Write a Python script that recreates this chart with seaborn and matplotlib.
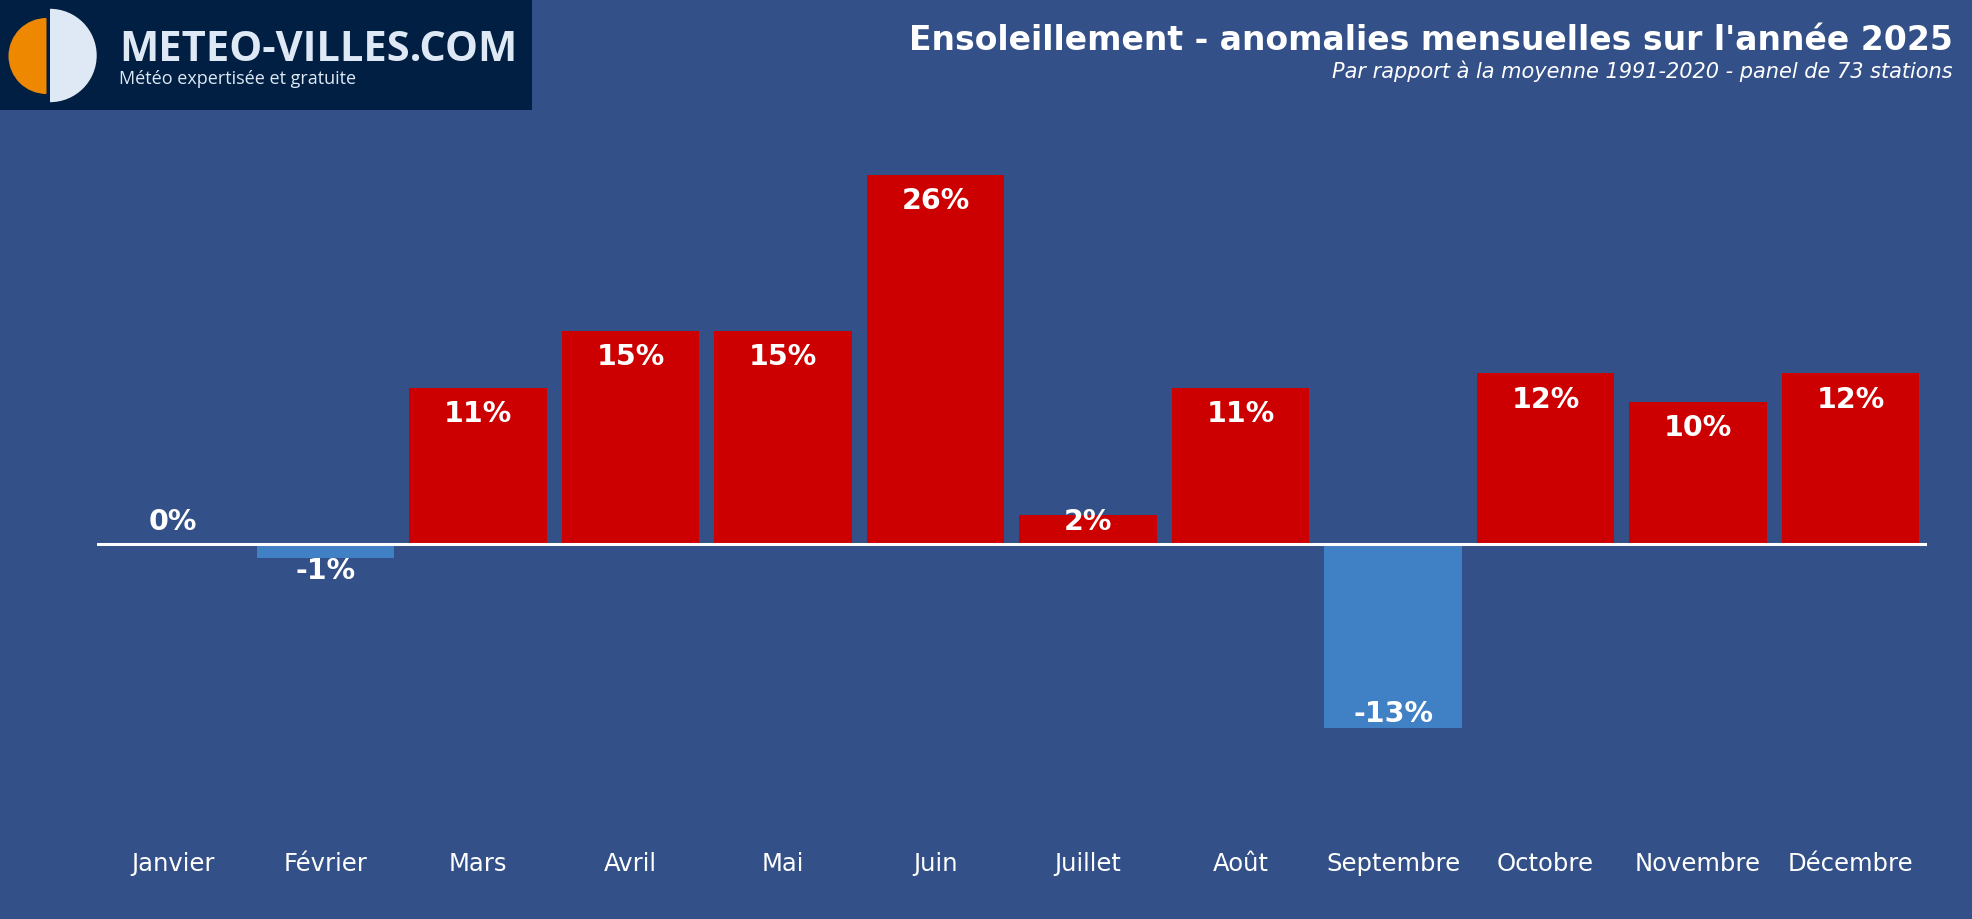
import matplotlib
matplotlib.use("Agg")
import matplotlib.pyplot as plt
import seaborn as sns
from matplotlib.patches import Wedge

months = ['Janvier', 'Février', 'Mars', 'Avril', 'Mai', 'Juin', 'Juillet',
          'Août', 'Septembre', 'Octobre', 'Novembre', 'Décembre']
anomalies = [0, -1, 11, 15, 15, 26, 2, 11, -13, 12, 10, 12]

bg = '#345088'
red = '#cc0000'
blue = '#4080c4'
W, H = 1972, 920

sns.set_theme(style='white')
plt.rcParams['font.family'] = ['DejaVu Sans']

fig = plt.figure(figsize=(W / 100, H / 100), dpi=100, facecolor=bg)
ax = fig.add_axes([96.8 / W, 0.0998, (1926.8 - 96.8) / W, 0.7707], facecolor=bg)

colors = [red if v > 0 else blue for v in anomalies]
sns.barplot(x=months, y=anomalies, hue=months, palette=colors, legend=False,
            width=0.9, saturation=1, linewidth=0, ax=ax)
ax.set_xlim(-0.5, 11.5)
ax.set_ylim(-20, 30)
ax.axhline(0, color='white', lw=2.2, zorder=5)

# value labels, inside the bar end but never on top of the zero line
for i, v in enumerate(anomalies):
    if v >= 0:
        y = max(v - 1.8, 1.6)
    else:
        y = min(v + 1.05, -1.85)
    ax.text(i, y, f'{v}%', ha='center', va='center', color='white',
            fontsize=20.5, fontweight='bold', zorder=6)

ax.set_yticks([])
ax.set_xlabel('')
ax.set_ylabel('')
ax.tick_params(axis='x', length=0, pad=17, labelsize=17.5, labelcolor='white')
for s in ax.spines.values():
    s.set_visible(False)

# titles
fig.text(1953 / W, 1 - 40 / H, "Ensoleillement - anomalies mensuelles sur l'année 2025",
         ha='right', va='center', color='white', fontsize=23.8, fontweight='bold')
fig.text(1953 / W, 1 - 71 / H, 'Par rapport à la moyenne 1991-2020 - panel de 73 stations',
         ha='right', va='center', color='white', fontsize=15, style='italic')

# logo
lax = fig.add_axes([0, 1 - 111 / H, 532 / W, 111 / H], facecolor='#001f42')
lax.set_xlim(0, 532)
lax.set_ylim(111, 0)
lax.set_xticks([])
lax.set_yticks([])
for s in lax.spines.values():
    s.set_visible(False)
lax.add_patch(Wedge((46.5, 57), 38, 90, 270, color='#ee8800', lw=0))
lax.add_patch(Wedge((50, 56.5), 46.7, -90, 90, color='#dfe9f5', lw=0))
lax.text(119, 61, 'METEO-VILLES.COM', ha='left', va='baseline', color='#dfe9f5',
         fontsize=30, fontweight='bold', family=['Open Sans', 'DejaVu Sans'])
lax.text(119, 84, 'Météo expertisée et gratuite', ha='left', va='baseline',
         color='#dfe9f5', fontsize=13, family=['Open Sans', 'DejaVu Sans'])

fig.savefig('out.png', dpi=100, facecolor=bg)
